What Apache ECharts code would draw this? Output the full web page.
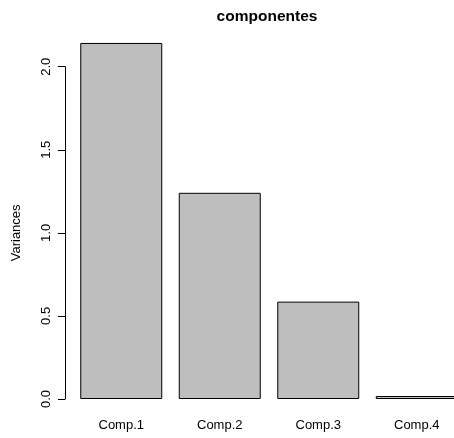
<!DOCTYPE html>
<html>
<head>
<meta charset="utf-8">
<script src="https://cdn.jsdelivr.net/npm/echarts@6/dist/echarts.min.js"></script>
<style>
  html, body { margin: 0; padding: 0; background: #fff; }
  #chart { width: 454px; height: 438px; }
</style>
</head>
<body>
<div id="chart"></div>
<script>
  // data
  const components = ['Comp.1', 'Comp.2', 'Comp.3', 'Comp.4']
  const variances = [2.143, 1.241, 0.586, 0.018]
  const yTicks = [0, 0.5, 1.0, 1.5, 2.0]

  var chart = echarts.init(document.getElementById('chart'))
  const font = 'Liberation Sans, Arial, Helvetica, sans-serif'
  chart.setOption({
    animation: false,
    title: {
      text: 'componentes',
      left: 262,
      top: 4,
      textAlign: 'center',
      textStyle: { fontFamily: font, fontSize: 15.5, fontWeight: 'bold', color: '#000' }
    },
    // plot runs past the right edge, as in the original
    grid: { left: 72, width: 394, top: 66.7, bottom: 39, containLabel: false, outerBoundsMode: 'none' },
    xAxis: {
      type: 'category',
      data: components,
      axisLine: { show: false },
      axisTick: { show: false },
      axisLabel: { margin: 20, fontFamily: font, fontSize: 13, color: '#000' }
    },
    yAxis: {
      type: 'value',
      min: yTicks[0],
      max: yTicks[yTicks.length - 1],
      interval: 0.5,
      offset: 7,
      name: 'Variances',
      nameLocation: 'middle',
      nameGap: 42,
      nameRotate: 90,
      nameTextStyle: { fontFamily: font, fontSize: 13, color: '#000' },
      axisLine: { show: true, lineStyle: { color: '#000', width: 1 } },
      axisTick: { show: true, length: 7, lineStyle: { color: '#000' } },
      axisLabel: {
        rotate: 90,
        margin: 12,
        fontFamily: font,
        fontSize: 13,
        color: '#000',
        formatter: function (v) { return v.toFixed(1) }
      },
      splitLine: { show: false }
    },
    series: [
      {
        type: 'bar',
        data: variances,
        barWidth: 82,
        clip: false,
        itemStyle: { color: '#bebebe', borderColor: '#000', borderWidth: 1 }
      }
    ]
  })
</script>
</body>
</html>
